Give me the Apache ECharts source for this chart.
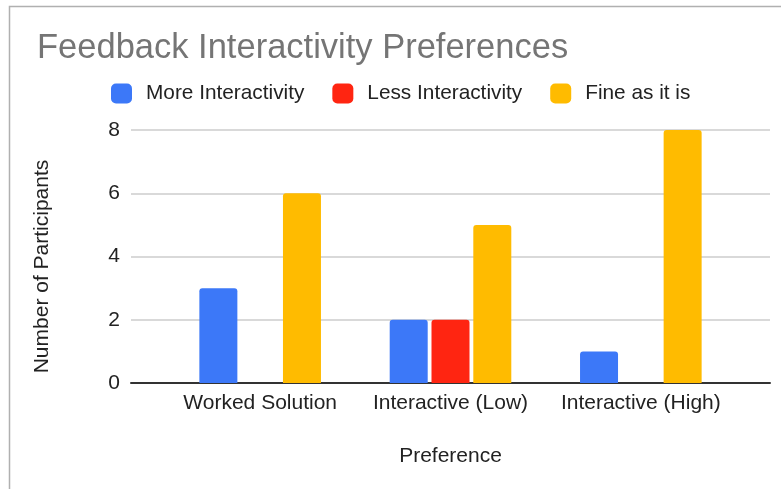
<!DOCTYPE html>
<html>
<head>
<meta charset="utf-8">
<script src="https://cdn.jsdelivr.net/npm/echarts@6/dist/echarts.min.js"></script>
<style>
  html, body { margin: 0; padding: 0; background: #fff; }
  #chart { width: 781px; height: 489px; }
</style>
</head>
<body>
<div id="chart"></div>
<script>
// Survey responses: how participants felt about the interactivity of each feedback type
const categories = ['Worked Solution', 'Interactive (Low)', 'Interactive (High)'];
const seriesNames = ['More Interactivity', 'Less Interactivity', 'Fine as it is'];
const moreInteractivity = [3, 2, 1];
const lessInteractivity = [0, 2, 0];
const fineAsItIs = [6, 5, 8];
const yTicks = [0, 2, 4, 6, 8];

const FONT = '"Liberation Sans", Arial, Helvetica, sans-serif';
const colors = ['#3c78f8', '#ff2511', '#ffbb00'];
const values = [moreInteractivity, lessInteractivity, fineAsItIs];

const chart = echarts.init(document.getElementById('chart'));

const yMin = yTicks[0];
const yMax = yTicks[yTicks.length - 1];
const yStep = yTicks[1] - yTicks[0];

chart.setOption({
  animation: false,
  textStyle: { fontFamily: FONT },
  title: {
    text: 'Feedback Interactivity Preferences',
    left: 32,
    top: 26,
    textStyle: { fontFamily: FONT, fontSize: 34.5, fontWeight: 'normal', color: '#757575' }
  },
  legend: {
    data: seriesNames,
    left: 106,
    top: 78,
    itemWidth: 21,
    itemHeight: 20,
    itemGap: 28,
    icon: 'roundRect',
    textStyle: { fontFamily: FONT, fontSize: 20.8, color: '#222', padding: [0, 0, 0, 9] }
  },
  graphic: [{
    type: 'rect',
    silent: true,
    shape: { x: 9.5, y: 6.5, width: 900, height: 600 },
    style: { fill: 'none', stroke: '#b0b0b0', lineWidth: 1.5 }
  }],
  grid: [
    { left: 131, right: 11, top: 130, bottom: 106 },
    { left: 165, right: 45, top: 130, bottom: 106 }
  ],
  xAxis: [
    {
      gridIndex: 0, type: 'value', min: 0, max: 1,
      axisLine: { show: true, lineStyle: { color: '#333', width: 2 } },
      axisTick: { show: false }, axisLabel: { show: false }, splitLine: { show: false }
    },
    {
      gridIndex: 1, type: 'category', data: categories,
      axisLine: { show: false }, axisTick: { show: false },
      axisLabel: { interval: 0, fontFamily: FONT, fontSize: 21, color: '#222', margin: 10 },
      name: 'Preference', nameLocation: 'middle', nameGap: 63,
      nameTextStyle: { fontFamily: FONT, fontSize: 21, color: '#222' }
    }
  ],
  yAxis: [
    {
      gridIndex: 0, type: 'value', min: yMin, max: yMax, interval: yStep,
      axisLine: { show: false }, axisTick: { show: false },
      axisLabel: { fontFamily: FONT, fontSize: 21, color: '#222', margin: 11 },
      splitLine: { lineStyle: { color: '#cccccc', width: 1.5 } },
      name: 'Number of Participants', nameLocation: 'middle', nameGap: 78,
      nameTextStyle: { fontFamily: FONT, fontSize: 21, color: '#222', padding: [0, 20, 0, 0] }
    },
    {
      gridIndex: 1, type: 'value', min: yMin, max: yMax, interval: yStep,
      show: false, splitLine: { show: false }
    }
  ],
  series: seriesNames.map((name, i) => ({
    name: name,
    type: 'bar',
    xAxisIndex: 1,
    yAxisIndex: 1,
    data: values[i],
    barWidth: 38,
    barGap: '10%',
    itemStyle: { color: colors[i], borderRadius: [3, 3, 0, 0] }
  }))
});
</script>
</body>
</html>
